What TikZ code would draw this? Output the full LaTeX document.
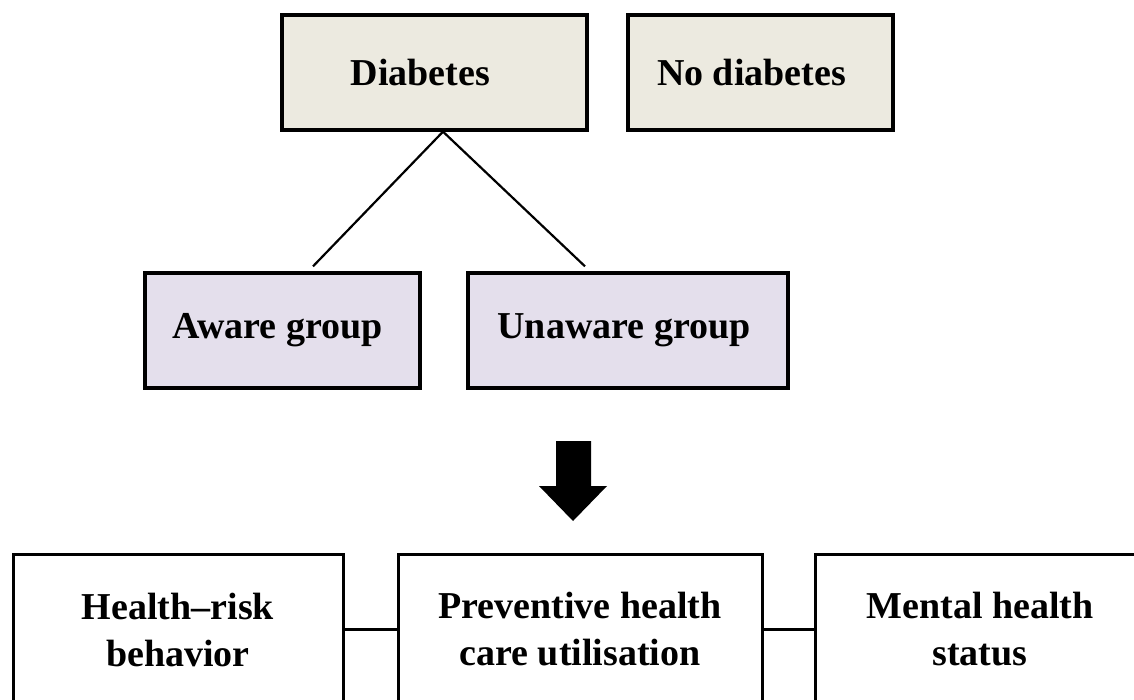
\documentclass[tikz,border=0pt]{standalone}
\usepackage{fontspec}
\setmainfont{Liberation Serif}
\usepackage{tikz}
\usetikzlibrary{positioning}
\definecolor{diabfill}{RGB}{236,234,224}
\definecolor{groupfill}{RGB}{228,223,236}

\begin{document}
\begin{tikzpicture}[
  x=1pt, y=-1pt,
  topbox/.style={
    draw=black,
    line width=3.3pt,
    fill=diabfill,
    minimum height=115pt,
    inner sep=0pt,
    font=\fontsize{38}{47}\selectfont\bfseries
  },
  groupbox/.style={
    topbox,
    fill=groupfill
  },
  outbox/.style={
    draw=black,
    line width=3pt,
    minimum height=150pt,
    minimum width=330pt,
    anchor=north,
    align=center,
    inner sep=0pt,
    font=\fontsize{38}{47}\selectfont\bfseries
  },
  link/.style={line width=2.2pt}
]
\useasboundingbox (0,0) rectangle (1134,699);
\clip (0,0) rectangle (1134,699);

\node[topbox,minimum width=305pt] (diab) at (434.5,72.5) {Diabetes\kern28pt};
\node[topbox,minimum width=265pt] (nodiab) at (760.5,72.5) {No diabetes\kern18pt};
\node[groupbox,minimum width=275pt] (aware) at (282.5,330.5) {Aware group\kern10pt};
\node[groupbox,minimum width=320pt] (unaware) at (628,330.5) {Unaware group\kern8pt};

\coordinate (apex) at ([xshift=8.5pt]diab.south);
\draw[link] (apex) -- ([xshift=30.5pt,yshift=5pt]aware.north);
\draw[link] (apex) -- ([xshift=-43pt,yshift=5pt]unaware.north);

% big down arrow
\fill (556,441) -- (591,441) -- (591,486) -- (607,486) -- (573,521)
  -- (539,486) -- (556,486) -- cycle;

\node[outbox] (risk) at (178,553) {Health--risk\\behavior};
\node[outbox,minimum width=364pt] (care) at (580,553) {Preventive health\\care utilisation};
\node[outbox] (mental) at (980,553) {Mental health\\status};

\draw[link] (risk) -- (care);
\draw[link] (care) -- (mental);
\end{tikzpicture}
\end{document}
